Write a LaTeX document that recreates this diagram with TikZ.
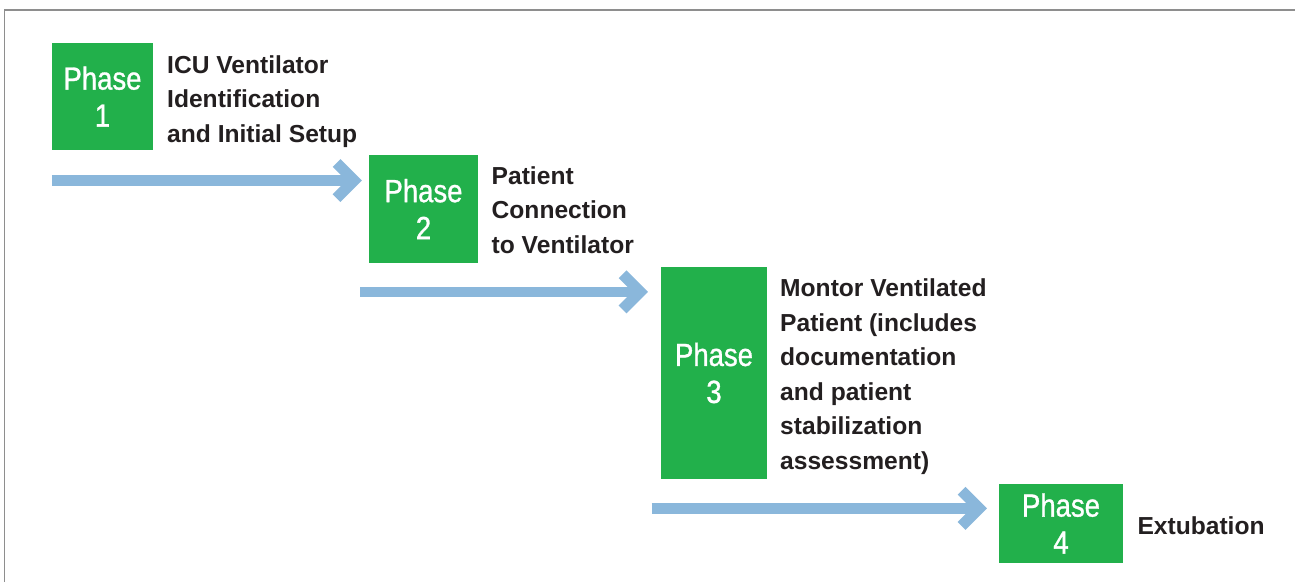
\documentclass[tikz,border=0pt]{standalone}
\usepackage{fontspec}
\setmainfont{Liberation Sans}
\newfontfamily\phasefont[FakeStretch=0.86, FakeBold=1.0]{Liberation Sans}
\usetikzlibrary{calc}
\definecolor{phasegreen}{HTML}{22B04B}
\definecolor{flowblue}{HTML}{8AB7DB}
\definecolor{inkblack}{HTML}{231F20}
\definecolor{framegray}{HTML}{8E8E8E}
\tikzset{
  phasebox/.style={fill=phasegreen, draw=none, inner sep=0pt, align=center,
    text=white, font=\phasefont\fontsize{32}{37}\selectfont},
  phaselabel/.style={anchor=north west, inner sep=0pt, align=left,
    text=inkblack, font=\bfseries\fontsize{24.6}{34.5}\selectfont},
  flowshaft/.style={draw=flowblue, line width=10.5pt, line cap=butt},
  flowhead/.style={draw=flowblue, line width=11pt, line cap=butt, line join=miter},
}
\begin{document}
\begin{tikzpicture}[x=1pt, y=-1pt]
  \useasboundingbox (0,0) rectangle (1295,582);
  % frame (top and left edges)
  \draw[framegray, line width=1.5pt] (4.7,582) -- (4.7,9.8) -- (1295,9.8);

  % phase boxes
  \node[phasebox, minimum width=101pt, minimum height=107pt] (p1) at (102.5,96.5) {Phase\\1};
  \node[phasebox, minimum width=109pt, minimum height=108pt] (p2) at (423.5,209) {Phase\\2};
  \node[phasebox, minimum width=106pt, minimum height=212pt] (p3) at (714,373) {Phase\\3};
  \node[phasebox, minimum width=124pt, minimum height=79pt] (p4) at (1061,523.5) {Phase\\4};

  % descriptions
  \node[phaselabel] (t1) at (167,55) {ICU Ventilator\\Identification\\and Initial Setup};
  \node[phaselabel] (t2) at (491.5,166.3) {Patient\\Connection\\to Ventilator};
  \node[phaselabel] (t3) at (780,278.7) {Montor Ventilated\\Patient (includes\\documentation\\and patient\\stabilization\\assessment)};
  \node[phaselabel] (t4) at (1137.3,516.3) {Extubation};

  % flow arrows between phases
  \coordinate (a1s) at (p1.west |- 0,180.5);
  \coordinate (a1e) at (354.2,180.5);
  \coordinate (a2s) at (360,291.8);
  \coordinate (a2e) at (640.2,291.8);
  \coordinate (a3s) at (651.7,508.3);
  \coordinate (a3e) at (979.2,508.3);
  \foreach \s/\e in {a1s/a1e, a2s/a2e, a3s/a3e}{
    \draw[flowshaft] (\s) -- (\e);
    \draw[flowhead] ($(\e)+(-17.6,-17.6)$) -- (\e) -- ($(\e)+(-17.6,17.6)$);
  }
\end{tikzpicture}
\end{document}
